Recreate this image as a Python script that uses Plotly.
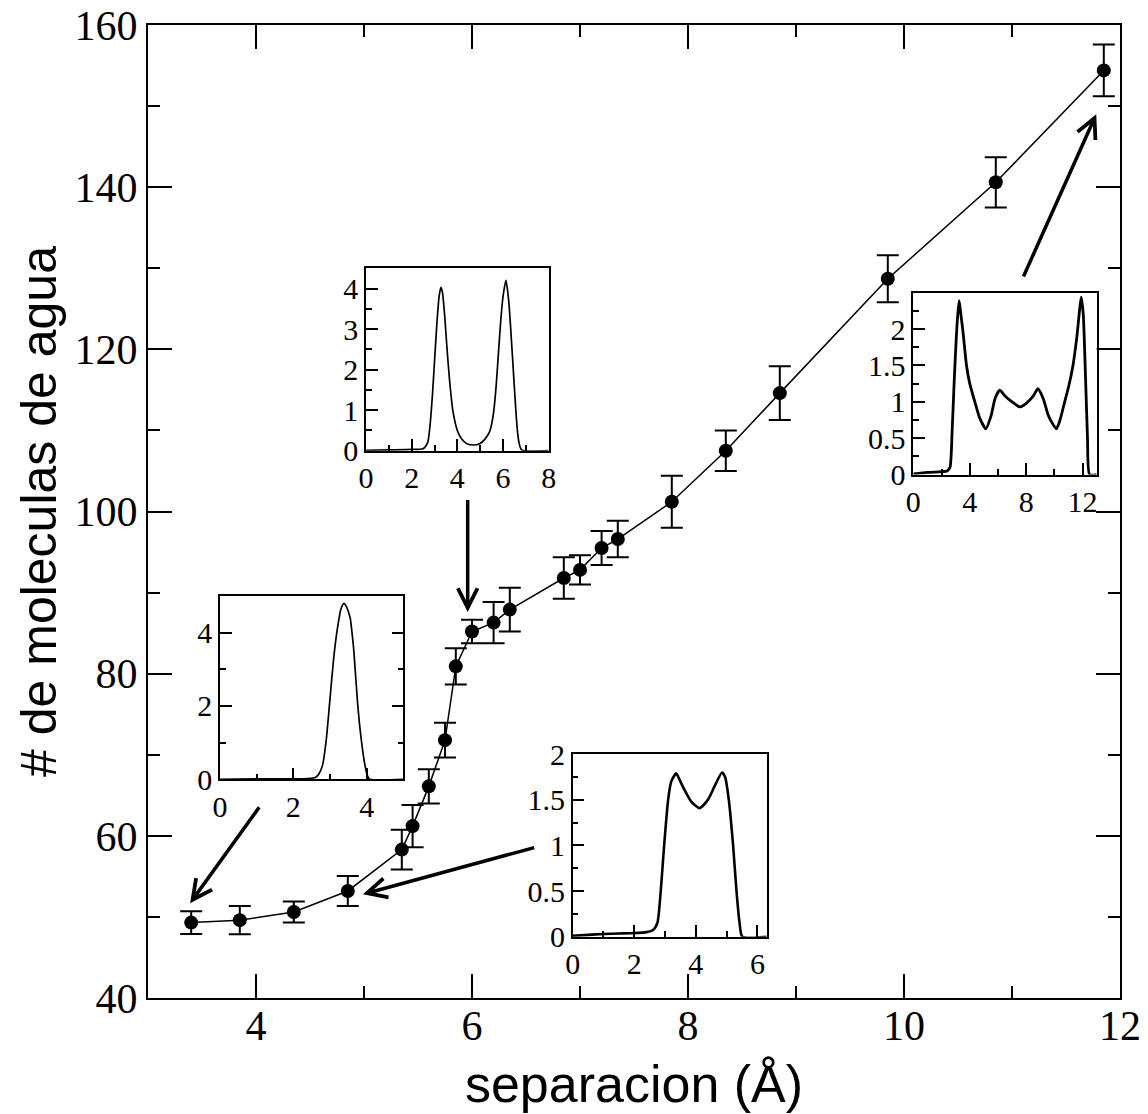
import plotly.graph_objects as go

# ---- main series: number of water molecules vs. separation ----
sep = [3.4, 3.85, 4.35, 4.85, 5.35, 5.45, 5.6, 5.75, 5.85, 6.0, 6.2, 6.35,
       6.85, 7.0, 7.2, 7.35, 7.85, 8.35, 8.85, 9.85, 10.85, 11.85]
n_agua = [49.3, 49.6, 50.6, 53.2, 58.3, 61.2, 66.1, 71.8, 80.9, 85.2, 86.3, 87.9,
          91.8, 92.8, 95.5, 96.6, 101.2, 107.5, 114.6, 128.7, 140.6, 154.4]
err = [1.4, 1.75, 1.3, 1.85, 2.45, 2.6, 2.1, 2.15, 2.25, 1.45, 2.55, 2.7,
       2.55, 1.8, 2.1, 2.25, 3.2, 2.5, 3.3, 2.9, 3.1, 3.2]

# ---- density profiles shown in the insets ----
# profile at 3.4 A
pa_x = [0, 1.0, 2.0, 2.4, 2.6, 2.7, 2.8, 2.9, 3.0, 3.1, 3.2, 3.3, 3.38, 3.45,
        3.55, 3.6, 3.65, 3.75, 3.85, 3.95, 4.02, 4.08, 5.0]
pa_y = [0.0, 0.01, 0.01, 0.02, 0.05, 0.15, 0.4, 1.1, 2.2, 3.3, 4.1, 4.65, 4.8, 4.7,
        4.4, 4.0, 3.5, 2.1, 1.1, 0.4, 0.1, 0.0, 0.0]
# profile at 6.0 A
pb_x = [0, 1.0, 2.0, 2.5, 2.7, 2.8, 2.9, 3.0, 3.1, 3.2, 3.28, 3.35, 3.45, 3.55,
        3.65, 3.8, 4.0, 4.2, 4.4, 4.7, 5.0, 5.2, 5.4, 5.5, 5.6, 5.7, 5.8, 5.9,
        6.0, 6.13, 6.25, 6.35, 6.45, 6.55, 6.63, 6.7, 6.8, 6.9, 8.0]
pb_y = [0.01, 0.02, 0.03, 0.05, 0.2, 0.6, 1.3, 2.2, 3.1, 3.8, 4.03, 3.9, 3.3, 2.5,
        1.8, 1.0, 0.5, 0.28, 0.18, 0.14, 0.18, 0.28, 0.45, 0.65, 1.0, 1.6, 2.4, 3.2,
        3.8, 4.2, 3.7, 2.9, 2.0, 1.1, 0.5, 0.2, 0.03, 0.0, 0.0]
# profile at 4.85 A
pc_x = [0, 0.5, 1.0, 1.5, 2.0, 2.4, 2.6, 2.75, 2.86, 2.97, 3.1, 3.2, 3.36, 3.5,
        3.63, 3.85, 4.12, 4.39, 4.61, 4.85, 4.95, 5.07, 5.21, 5.32, 5.42, 5.51, 6.3]
pc_y = [0.01, 0.02, 0.03, 0.035, 0.04, 0.05, 0.07, 0.15, 0.5, 1.0, 1.5, 1.7, 1.79,
        1.7, 1.61, 1.48, 1.41, 1.5, 1.65, 1.8, 1.75, 1.5, 1.0, 0.5, 0.15, 0.0, 0.0]
# profile at 11.85 A
pd_x = [0, 1.0, 2.0, 2.4, 2.6, 2.75, 2.9, 3.05, 3.15, 3.25, 3.4, 3.5, 3.77, 4.0,
        4.36, 4.7, 5.14, 5.5, 5.8, 6.13, 6.5, 7.0, 7.55, 8.0, 8.5, 8.84, 9.2,
        9.6, 10.14, 10.4, 10.73, 11.0, 11.32, 11.6, 11.91, 12.05, 12.2, 12.35,
        12.5, 13.0]
pd_y = [0.01, 0.03, 0.04, 0.05, 0.1, 0.6, 1.3, 1.9, 2.2, 2.39, 2.15, 2.0, 1.5, 1.25,
        1.0, 0.78, 0.63, 0.8, 1.05, 1.16, 1.08, 1.0, 0.93, 0.98, 1.08, 1.18, 1.05,
        0.8, 0.63, 0.75, 1.0, 1.2, 1.5, 1.9, 2.44, 2.2, 1.4, 0.5, 0.0, 0.0]

SERIF = "Liberation Serif"
SANS = "Liberation Sans"

fig = go.Figure()

fig.add_trace(go.Scatter(
    x=sep, y=n_agua, mode="lines+markers",
    line=dict(color="black", width=1.5),
    marker=dict(color="black", size=14),
    error_y=dict(type="data", array=err, color="black", thickness=2, width=11),
    xaxis="x", yaxis="y", showlegend=False,
))

insets = [
    ("2", pa_x, pa_y, 1.7),
    ("3", pb_x, pb_y, 1.7),
    ("4", pc_x, pc_y, 2.6),
    ("5", pd_x, pd_y, 2.8),
]
for k, xs, ys, w in insets:
    fig.add_trace(go.Scatter(
        x=xs, y=ys, mode="lines",
        line=dict(color="black", width=w, shape="spline", smoothing=0.6),
        xaxis="x" + k, yaxis="y" + k, showlegend=False,
    ))

main_ax = dict(
    showline=True, linecolor="black", linewidth=2, mirror="allticks",
    ticks="inside", ticklen=24, tickwidth=2, tickcolor="black",
    showgrid=False, zeroline=False, automargin=False,
    tickfont=dict(family=SERIF, size=42, color="black"),
)

fig.update_layout(
    width=1148, height=1114,
    margin=dict(l=148, r=28, t=25, b=116),
    paper_bgcolor="white", plot_bgcolor="white",
    xaxis=dict(
        main_ax, range=[3, 12], dtick=2, tick0=0, ticklabelstandoff=-10,
        minor=dict(dtick=1, ticks="inside", ticklen=12, tickwidth=2, tickcolor="black"),
        title=dict(text="separacion (Å)", font=dict(family=SANS, size=52, color="black"),
                   standoff=17),
    ),
    yaxis=dict(
        main_ax, range=[40, 160], dtick=20, tick0=0,
        minor=dict(dtick=10, ticks="inside", ticklen=12, tickwidth=2, tickcolor="black"),
        title=dict(text="# de moleculas de agua", font=dict(family=SANS, size=50, color="black"),
                   standoff=2),
    ),
)

inset_font = dict(family=SERIF, size=30, color="black")


def inset_axis(domain, rng, dtick, minor_dtick, anchor, mirror=True, tickvals=None):
    ax = dict(
        domain=domain, range=rng, anchor=anchor,
        showline=True, linecolor="black", linewidth=1.5, mirror=mirror,
        ticks="inside", ticklen=12, tickwidth=1.5, tickcolor="black",
        minor=dict(dtick=minor_dtick, ticks="inside", ticklen=6, tickwidth=1.5,
                   tickcolor="black"),
        showgrid=False, zeroline=False, automargin=False, tickfont=inset_font,
    )
    if tickvals is not None:
        ax["tickvals"] = tickvals
    else:
        ax["dtick"] = dtick
        ax["tick0"] = 0
    return ax


fig.update_layout(
    xaxis2=inset_axis([0.0741, 0.2627], [0, 5], 2, 1, "y2"),
    yaxis2=inset_axis([0.2248, 0.4132], [0, 5], 2, 1, "x2", mirror="allticks"),
    xaxis3=inset_axis([0.2243, 0.4122], [0, 8], 2, 1, "y3"),
    yaxis3=inset_axis([0.5625, 0.7500], [0, 4.5], 1, 0.5, "x3"),
    xaxis4=inset_axis([0.4369, 0.6365], [0, 6.3], 2, 1, "y4"),
    yaxis4=inset_axis([0.0630, 0.2505], [0, 2], 0.5, 0.25, "x4"),
    xaxis5=inset_axis([0.7874, 0.9760], [0, 13], 4, 2, "y5"),
    yaxis5=inset_axis([0.5379, 0.7249], [0, 2.5], 0.5, 0.25, "x5",
                      tickvals=[0, 0.5, 1, 1.5, 2]),
)

# arrows linking each inset to its point on the curve
arrows = [
    (3.39, 51.7, 4.04, 63.7),
    (4.99, 52.8, 6.59, 58.6),
    (5.96, 87.6, 5.96, 101.6),
    (11.78, 149.0, 11.1, 128.8),
]
for hx, hy, tx, ty in arrows:
    fig.add_annotation(
        x=hx, y=hy, ax=tx, ay=ty, xref="x", yref="y", axref="x", ayref="y",
        text="", showarrow=True, arrowhead=5, arrowsize=1.1, arrowwidth=3.5,
        arrowcolor="black",
    )

fig.write_html("out.html")
